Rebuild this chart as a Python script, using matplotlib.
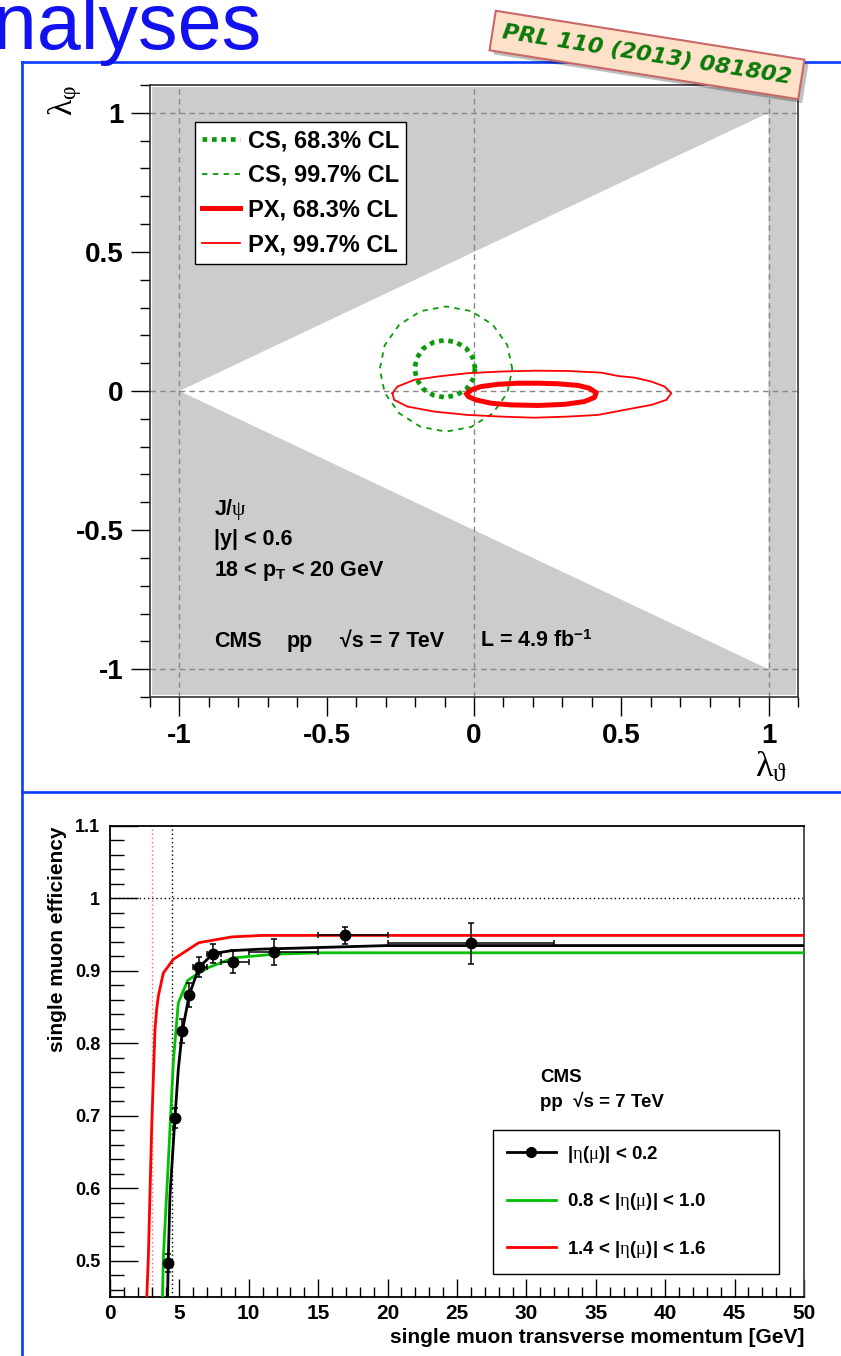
import numpy as np
import matplotlib.pyplot as plt
from matplotlib import font_manager
from matplotlib.lines import Line2D
from matplotlib.patches import Polygon, Rectangle

names = {f.name for f in font_manager.fontManager.ttflist}
narrow = 'Liberation Sans Narrow' if 'Liberation Sans Narrow' in names else 'Liberation Sans'

plt.rcParams['font.family'] = ['Liberation Sans', 'DejaVu Sans']
plt.rcParams['font.weight'] = 'bold'
plt.rcParams['axes.unicode_minus'] = False
plt.rcParams['mathtext.fontset'] = 'custom'
plt.rcParams['mathtext.rm'] = 'Liberation Sans:bold'
plt.rcParams['mathtext.bf'] = 'Liberation Sans:bold'
plt.rcParams['mathtext.it'] = 'Liberation Serif:weight=normal'
plt.rcParams['mathtext.fallback'] = 'stix'

# ---- upper panel: lambda_phi vs lambda_theta
tri_x = [-1, 1, 1]          # physically allowed triangle
tri_y = [0, 1, -1]
ref_lines = [-1, 0, 1]

cs68_x = [0.004, -0.004, -0.026, -0.060, -0.099, -0.138, -0.172, -0.194,
          -0.202, -0.194, -0.172, -0.138, -0.099, -0.060, -0.026, -0.004, 0.004]
cs68_y = [0.080, 0.119, 0.153, 0.175, 0.183, 0.175, 0.153, 0.119,
          0.080, 0.041, 0.007, -0.015, -0.023, -0.015, 0.007, 0.041, 0.080]
cs99_x = [0.130, 0.113, 0.064, -0.009, -0.095, -0.181, -0.254, -0.303,
          -0.320, -0.303, -0.254, -0.181, -0.095, -0.009, 0.064, 0.113, 0.130]
cs99_y = [0.079, 0.165, 0.238, 0.287, 0.304, 0.287, 0.238, 0.165,
          0.079, -0.007, -0.080, -0.129, -0.146, -0.129, -0.080, -0.007, 0.079]
px68_x = [-0.024, -0.010, 0.024, 0.081, 0.149, 0.217, 0.285, 0.353, 0.392, 0.415,
          0.409, 0.375, 0.307, 0.217, 0.126, 0.058, 0.007, -0.019, -0.024]
px68_y = [-0.011, 0.004, 0.016, 0.024, 0.028, 0.028, 0.026, 0.020, 0.010, -0.006,
          -0.023, -0.038, -0.048, -0.052, -0.050, -0.044, -0.032, -0.020, -0.011]
px99_x = [-0.277, -0.260, -0.203, -0.124, -0.022, 0.092, 0.205, 0.319, 0.432, 0.489,
          0.545, 0.602, 0.647, 0.670, 0.653, 0.602, 0.511, 0.421, 0.319, 0.205,
          0.092, -0.022, -0.135, -0.226, -0.271, -0.277]
px99_y = [-0.008, 0.016, 0.040, 0.052, 0.064, 0.070, 0.073, 0.072, 0.066, 0.054,
          0.048, 0.034, 0.016, -0.008, -0.032, -0.050, -0.068, -0.086, -0.092, -0.096,
          -0.092, -0.086, -0.074, -0.056, -0.032, -0.008]
cont_labels = ['CS, 68.3% CL', 'CS, 99.7% CL', 'PX, 68.3% CL', 'PX, 99.7% CL']

# ---- lower panel: single muon efficiency
pt = [4.2, 4.68, 5.21, 5.71, 6.41, 7.44, 8.84, 11.8, 16.9, 26.0]
pt_lo = [4.0, 4.5, 5.0, 5.5, 6.0, 7.0, 8.0, 10.0, 15.0, 20.0]
pt_hi = [4.5, 5.0, 5.5, 6.0, 7.0, 8.0, 10.0, 15.0, 20.0, 32.0]
eff = [0.497, 0.697, 0.817, 0.867, 0.905, 0.924, 0.913, 0.926, 0.949, 0.938]
eff_err = [0.012, 0.014, 0.017, 0.017, 0.014, 0.013, 0.016, 0.018, 0.012, 0.028]

fit_bk_x = [4.15, 4.2, 4.32, 4.68, 4.92, 5.21, 5.71, 6.41, 7.44, 8.77, 10.8, 20.0, 50.0]
fit_bk_y = [0.45, 0.503, 0.59, 0.697, 0.764, 0.817, 0.867, 0.905, 0.924, 0.928, 0.930, 0.935, 0.935]
fit_gr_x = [3.78, 3.84, 4.2, 4.56, 4.92, 5.6, 6.0, 7.0, 8.9, 11.8, 15.0, 50.0]
fit_gr_y = [0.45, 0.503, 0.636, 0.774, 0.856, 0.887, 0.892, 0.904, 0.918, 0.923, 0.925, 0.925]
fit_rd_x = [2.65, 2.76, 3.0, 3.24, 3.36, 3.48, 3.84, 4.56, 6.4, 8.8, 11.0, 50.0]
fit_rd_y = [0.45, 0.503, 0.682, 0.819, 0.847, 0.865, 0.897, 0.916, 0.939, 0.947, 0.949, 0.949]
thr_x = [3.0, 4.45]
eta_labels = ['|$\\eta$($\\mu$)| < 0.2', '0.8 < |$\\eta$($\\mu$)| < 1.0', '1.4 < |$\\eta$($\\mu$)| < 1.6']

W, H = 841, 1356
fig = plt.figure(figsize=(W / 100, H / 100), dpi=100)

def fx(px):
    return px / W

def fy(py):
    return 1 - py / H

# slide decoration
blue = '#0a3cff'
for xs, ys in [([22, 841], [62, 62]), ([22, 22], [62, 1356]), ([22, 841], [792, 792])]:
    fig.add_artist(Line2D([fx(v) for v in xs], [fy(v) for v in ys], color=blue, lw=1.9))
fig.text(fx(262), fy(49), 'Analyses', family=narrow, fontweight='normal', fontsize=57,
         color='#1212f0', ha='right', va='baseline')

# ---------------- upper panel
ax = fig.add_axes([fx(150), fy(697), fx(648), 612 / H])
ax.set_xlim(-1.1, 1.1)
ax.set_ylim(-1.1, 1.1)
ax.add_patch(Rectangle((0, 0), 1, 1, transform=ax.transAxes, fc='#cccccc', ec='white', lw=3, zorder=0))
ax.add_patch(Polygon(np.column_stack([tri_x, tri_y]), closed=True, fc='white', ec='none', zorder=1))
for v in ref_lines:
    ax.axvline(v, color='#888888', lw=1, ls=(0, (4, 3)), zorder=2)
    ax.axhline(v, color='#888888', lw=1, ls=(0, (4, 3)), zorder=2)

green = '#0a9a0a'
h1, = ax.plot(cs68_x, cs68_y, color=green, lw=3.4, ls=(0, (1, 1)), dash_capstyle='butt', zorder=4)
h2, = ax.plot(cs99_x, cs99_y, color=green, lw=1.3, ls=(0, (3, 3)), zorder=4)
h3, = ax.plot(px68_x, px68_y, color='red', lw=3.6, zorder=5)
h4, = ax.plot(px99_x, px99_y, color='red', lw=1.3, zorder=5)

ax.set_xticks([-1, -0.5, 0, 0.5, 1])
ax.set_xticklabels(['-1', '-0.5', '0', '0.5', '1'])
ax.set_yticks([-1, -0.5, 0, 0.5, 1])
ax.set_yticklabels(['-1', '-0.5', '0', '0.5', '1'])
ax.set_xticks(np.arange(-11, 12) / 10, minor=True)
ax.set_yticks(np.arange(-11, 12) / 10, minor=True)
ax.tick_params(which='major', direction='out', length=14, width=1, labelsize=20, pad=5)
ax.tick_params(which='minor', direction='out', length=7, width=1)
for s in ax.spines.values():
    s.set_color('#333333')
    s.set_linewidth(1.2)

leg = ax.legend([h1, h2, h3, h4], cont_labels, loc='upper left', bbox_to_anchor=(0.0694, 0.9395),
                borderaxespad=0, fontsize=17, frameon=True, fancybox=False, edgecolor='black',
                framealpha=1, handlelength=1.6, handletextpad=0.35, labelspacing=0.5,
                borderpad=0.3)
leg.get_frame().set_linewidth(1)

ax.text(0.958, -0.115, '$\\lambda_{\\vartheta}$', transform=ax.transAxes, fontsize=26,
        ha='center', va='center')
ax.text(-0.131, 0.975, '$\\lambda_{\\varphi}$', transform=ax.transAxes, fontsize=24,
        ha='center', va='center', rotation=90)

ts = 15.5
ax.text(0.0988, 0.2974, 'J/$\\psi$', transform=ax.transAxes, fontsize=ts, va='baseline')
ax.text(0.0988, 0.2484, '|y| < 0.6', transform=ax.transAxes, fontsize=ts, va='baseline')
ax.text(0.0988, 0.1977, '18 < p$_{\\mathrm{T}}$ < 20 GeV', transform=ax.transAxes, fontsize=ts, va='baseline')
ax.text(0.0988, 0.0817, 'CMS', transform=ax.transAxes, fontsize=ts, va='baseline')
ax.text(0.211, 0.0817, 'pp', transform=ax.transAxes, fontsize=ts, va='baseline')
ax.text(0.2932, 0.0817, '√s = 7 TeV', transform=ax.transAxes, fontsize=ts, va='baseline')
ax.text(0.5093, 0.0817, 'L = 4.9 fb$^{\\mathrm{-1}}$', transform=ax.transAxes, fontsize=ts, va='baseline')

# ---------------- lower panel
bx = fig.add_axes([fx(110), fy(1297), fx(694), 471 / H])
bx.set_xlim(0, 50)
bx.set_ylim(0.45, 1.1)
bx.axhline(1.0, color='black', lw=1, ls=(0, (1, 2)), zorder=1)
bx.axvline(thr_x[0], color='#ff6666', lw=1, ls=(0, (1, 2)), zorder=1)
bx.axvline(thr_x[1], color='black', lw=1, ls=(0, (1, 2)), zorder=1)

l_rd, = bx.plot(fit_rd_x, fit_rd_y, color='#ff0000', lw=2, zorder=3)
l_gr, = bx.plot(fit_gr_x, fit_gr_y, color='#00c000', lw=2, zorder=3)
l_bk, = bx.plot(fit_bk_x, fit_bk_y, color='black', lw=2, zorder=4)
xerr = [np.array(pt) - np.array(pt_lo), np.array(pt_hi) - np.array(pt)]
bx.errorbar(pt, eff, yerr=eff_err, xerr=xerr, fmt='o', color='black', ms=7.5,
            elinewidth=1.1, capsize=2.5, capthick=1.1, zorder=5)

bx.set_xticks(np.arange(0, 51, 5))
bx.set_xticks(np.arange(0, 51, 1), minor=True)
bx.set_yticks([0.5, 0.6, 0.7, 0.8, 0.9, 1.0, 1.1])
bx.set_yticklabels(['0.5', '0.6', '0.7', '0.8', '0.9', '1', '1.1'])
bx.set_yticks(np.arange(46, 111, 2) / 100, minor=True)
bx.tick_params(axis='x', which='major', direction='in', length=13, width=1, labelsize=15, pad=5)
bx.tick_params(axis='x', which='minor', direction='in', length=7, width=1)
bx.tick_params(axis='y', which='major', direction='in', length=20, width=1, labelsize=13, pad=7)
bx.tick_params(axis='y', which='minor', direction='in', length=10, width=1)
for s in bx.spines.values():
    s.set_color('black')
    s.set_linewidth(1.3)
bx.spines['right'].set_color('#444444')

bx.text(1.0, -0.085, 'single muon transverse momentum [GeV]', transform=bx.transAxes,
        fontsize=15, ha='right', va='center')
bx.text(-0.076, 1.0, 'single muon efficiency', transform=bx.transAxes, fontsize=15,
        ha='center', va='top', rotation=90)
bx.text(0.6196, 0.4565, 'CMS', transform=bx.transAxes, fontsize=13.5, va='baseline')
bx.text(0.6196, 0.4034, 'pp  √s = 7 TeV', transform=bx.transAxes, fontsize=13.5, va='baseline')

hk = Line2D([], [], color='black', lw=2, marker='o', ms=7)
hg = Line2D([], [], color='#00c000', lw=2)
hr = Line2D([], [], color='#ff0000', lw=2)
leg2 = bx.legend([hk, hg, hr], eta_labels, loc='upper left', mode='expand',
                 bbox_to_anchor=(0.5519, 0.0, 0.4121, 0.3546), borderaxespad=0,
                 fontsize=13.5, frameon=True, fancybox=False, edgecolor='black', framealpha=1,
                 handlelength=2.6, handletextpad=0.6, labelspacing=1.4, borderpad=0.75,
                 numpoints=1)
leg2.get_frame().set_linewidth(1)

# publication stamp
stamp = 'PRL 110 (2013) 081802'
fig.text(fx(651), fy(59), stamp, rotation=-9, ha='center', va='center', rotation_mode='anchor',
         fontsize=16, fontweight='bold', style='italic', family='DejaVu Sans', color='none',
         bbox=dict(boxstyle='square,pad=0.45', fc='#00000040', ec='none'), zorder=9)
fig.text(fx(647), fy(55), stamp, rotation=-9, ha='center', va='center', rotation_mode='anchor',
         fontsize=16, fontweight='bold', style='italic', family='DejaVu Sans', color='#0a7a0a',
         bbox=dict(boxstyle='square,pad=0.45', fc='#fde1c8', ec='#c96868', lw=1.5), zorder=10)

fig.savefig('out.png', dpi=100)
